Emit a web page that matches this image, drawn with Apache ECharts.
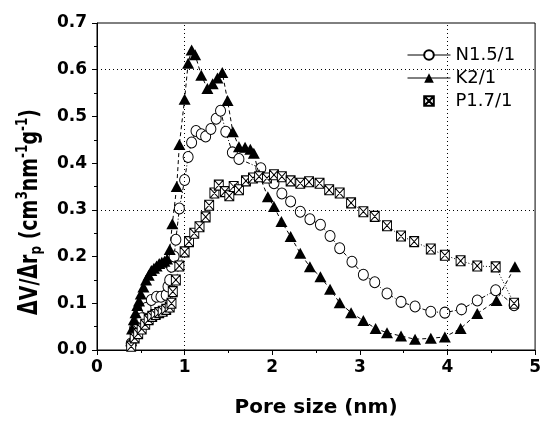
<!DOCTYPE html>
<html>
<head>
<meta charset="utf-8">
<script src="https://cdn.jsdelivr.net/npm/echarts@6/dist/echarts.min.js"></script>
<style>
html,body{margin:0;padding:0;background:#fff;}
#chart{width:544px;height:423px;}
</style>
</head>
<body>
<div id="chart"></div>
<script>
// ---- data ----
var seriesNames = ['N1.5/1', 'K2/1', 'P1.7/1'];
var xTicks = [0, 1, 2, 3, 4, 5];
var yTicks = [0.0, 0.1, 0.2, 0.3, 0.4, 0.5, 0.6, 0.7];
var xGuides = [1, 4];
var yGuides = [0.3, 0.6];
var xTitle = 'Pore size (nm)';

var dataN = [[0.39,0.014],[0.43,0.047],[0.47,0.058],[0.51,0.068],[0.56,0.09],[0.62,0.107],[0.68,0.114],[0.73,0.114],[0.79,0.118],[0.81,0.136],[0.83,0.15],[0.85,0.178],[0.88,0.2],[0.90,0.236],[0.94,0.303],[1.0,0.364],[1.04,0.413],[1.08,0.444],[1.13,0.469],[1.19,0.462],[1.24,0.457],[1.30,0.473],[1.36,0.495],[1.41,0.512],[1.47,0.467],[1.545,0.423],[1.62,0.409],[1.87,0.389],[2.02,0.357],[2.11,0.335],[2.21,0.318],[2.32,0.296],[2.43,0.28],[2.55,0.268],[2.66,0.244],[2.77,0.218],[2.91,0.189],[3.04,0.161],[3.17,0.145],[3.31,0.121],[3.47,0.103],[3.63,0.093],[3.81,0.082],[3.97,0.08],[4.16,0.087],[4.34,0.106],[4.55,0.128],[4.76,0.096]];

var dataK = [[0.39,0.02],[0.40,0.045],[0.42,0.065],[0.44,0.08],[0.46,0.095],[0.48,0.105],[0.50,0.12],[0.53,0.135],[0.56,0.15],[0.59,0.16],[0.62,0.17],[0.65,0.175],[0.68,0.18],[0.71,0.185],[0.74,0.188],[0.77,0.19],[0.80,0.195],[0.83,0.215],[0.86,0.27],[0.91,0.35],[0.94,0.44],[1.00,0.537],[1.04,0.614],[1.08,0.642],[1.12,0.632],[1.19,0.588],[1.26,0.56],[1.32,0.57],[1.375,0.582],[1.43,0.594],[1.49,0.534],[1.55,0.467],[1.62,0.435],[1.69,0.434],[1.75,0.43],[1.79,0.421],[1.85,0.375],[1.95,0.328],[2.02,0.307],[2.105,0.275],[2.21,0.243],[2.32,0.207],[2.43,0.178],[2.55,0.157],[2.66,0.13],[2.77,0.101],[2.90,0.08],[3.04,0.063],[3.18,0.046],[3.31,0.037],[3.47,0.03],[3.63,0.023],[3.81,0.025],[3.97,0.028],[4.15,0.046],[4.34,0.078],[4.56,0.106],[4.77,0.178]];

var dataP = [[0.39,0.008],[0.43,0.026],[0.47,0.035],[0.51,0.045],[0.55,0.055],[0.59,0.065],[0.63,0.072],[0.67,0.076],[0.71,0.08],[0.75,0.083],[0.79,0.087],[0.83,0.092],[0.85,0.1],[0.865,0.125],[0.90,0.15],[0.94,0.18],[1.0,0.21],[1.05,0.232],[1.11,0.25],[1.17,0.264],[1.24,0.285],[1.28,0.31],[1.34,0.336],[1.39,0.353],[1.46,0.339],[1.51,0.33],[1.56,0.35],[1.62,0.343],[1.70,0.362],[1.78,0.368],[1.85,0.371],[1.94,0.368],[2.02,0.375],[2.11,0.371],[2.21,0.362],[2.32,0.357],[2.42,0.36],[2.54,0.357],[2.65,0.343],[2.77,0.336],[2.90,0.315],[3.04,0.296],[3.17,0.286],[3.31,0.266],[3.47,0.244],[3.62,0.232],[3.81,0.216],[3.97,0.203],[4.15,0.191],[4.34,0.18],[4.55,0.178],[4.76,0.1]];

// ---- chart ----
var chart = echarts.init(document.getElementById('chart'), null, {renderer: 'canvas'});
var tickFont = {fontFamily: 'DejaVu Sans', fontWeight: 'bold', fontSize: 17, color: '#000'};
var boxX = 'path://M0,0L10,0L10,10L0,10ZM0,0L10,10M10,0L0,10';

var guideData = [];
xGuides.forEach(function (v) { guideData.push({xAxis: v}); });
yGuides.forEach(function (v) { guideData.push({yAxis: v}); });

var option = {
  backgroundColor: '#fff',
  animation: false,
  grid: {left: 97, right: 5, top: 23, bottom: 73, show: true, borderColor: '#000', borderWidth: 1, backgroundColor: 'transparent'},
  xAxis: {
    type: 'value', min: xTicks[0], max: xTicks[xTicks.length - 1], interval: 1,
    axisLine: {show: true, lineStyle: {color: '#000', width: 1}},
    axisTick: {show: true, inside: false, length: 5, lineStyle: {color: '#000'}},
    minorTick: {show: true, splitNumber: 2, length: 3, lineStyle: {color: '#000'}},
    splitLine: {show: false},
    axisLabel: Object.assign({margin: 9}, tickFont),
    name: xTitle, nameLocation: 'middle', nameGap: 48,
    nameTextStyle: {fontFamily: 'DejaVu Sans', fontWeight: 'bold', fontSize: 20, color: '#000'}
  },
  yAxis: {
    type: 'value', min: yTicks[0], max: yTicks[yTicks.length - 1], interval: 0.1,
    axisLine: {show: true, lineStyle: {color: '#000', width: 1}},
    axisTick: {show: true, inside: false, length: 5, lineStyle: {color: '#000'}},
    minorTick: {show: true, splitNumber: 2, length: 3, lineStyle: {color: '#000'}},
    splitLine: {show: false},
    axisLabel: Object.assign({margin: 10, formatter: function (v) { return v.toFixed(1); }}, tickFont)
  },
  legend: {
    orient: 'vertical', left: 402, top: 41,
    itemWidth: 43, itemHeight: 12, itemGap: 5,
    textStyle: {fontFamily: 'DejaVu Sans', fontSize: 18, color: '#000', lineHeight: 14},
    lineStyle: {type: 'solid', color: '#000', width: 1},
    data: [
      {name: seriesNames[0]},
      {name: seriesNames[1]},
      {name: seriesNames[2], lineStyle: {opacity: 0}}
    ]
  },
  graphic: [{
    type: 'text', x: 30, y: 212, rotation: Math.PI / 2, scaleY: 1.35,
    style: {
      text: '{m|ΔV/Δr}{sub|p}{m| (cm}{sup|3}{m|nm}{sup|-1}{m|g}{sup|-1}{m|)}',
      align: 'center', verticalAlign: 'middle', fill: '#000',
      rich: {
        m: {fontFamily: 'DejaVu Sans', fontWeight: 'bold', fontSize: 19, lineHeight: 22, verticalAlign: 'middle'},
        sup: {fontFamily: 'DejaVu Sans', fontWeight: 'bold', fontSize: 12, verticalAlign: 'top', lineHeight: 22, padding: [0, 0, 8, 0]},
        sub: {fontFamily: 'DejaVu Sans', fontWeight: 'bold', fontSize: 12, verticalAlign: 'bottom', lineHeight: 22, padding: [8, 0, 0, 0]}
      }
    }
  }],
  series: [
    {
      name: seriesNames[0], type: 'line', data: dataN,
      symbol: 'circle', symbolSize: [10, 11], showAllSymbol: true,
      itemStyle: {color: '#fff', borderColor: '#000', borderWidth: 1},
      lineStyle: {color: '#000', width: 1, type: [4, 2, 1, 2]},
      z: 3,
      markLine: {
        silent: true, symbol: 'none', label: {show: false},
        lineStyle: {color: '#000', width: 1, type: [1, 3]},
        data: guideData
      }
    },
    {
      name: seriesNames[1], type: 'line', data: dataK,
      symbol: 'triangle', symbolSize: [12, 11], showAllSymbol: true,
      itemStyle: {color: '#000', borderColor: '#000', borderWidth: 0},
      lineStyle: {color: '#000', width: 1, type: [4, 3]},
      z: 4
    },
    {
      name: seriesNames[2], type: 'line', data: dataP,
      symbol: boxX, symbolSize: [9, 10], showAllSymbol: true,
      itemStyle: {color: '#fff', borderColor: '#000', borderWidth: 1},
      lineStyle: {color: '#000', width: 1, type: [1, 2]},
      z: 5
    }
  ]
};
chart.setOption(option);
</script>
</body>
</html>
